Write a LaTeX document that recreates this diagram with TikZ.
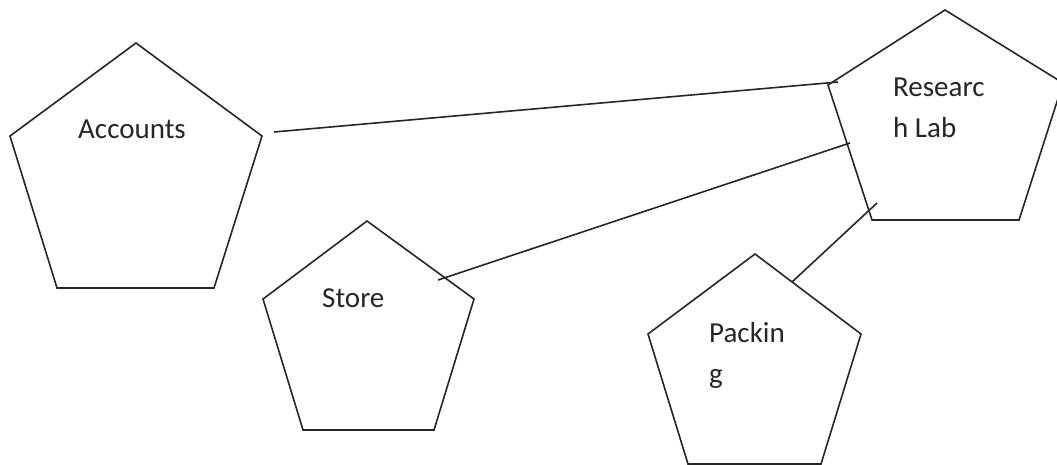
\documentclass[tikz,border=0pt]{standalone}
\usepackage{fontspec}
\setmainfont{Carlito}
\begin{document}
\begin{tikzpicture}[x=1pt,y=-1pt,
  pent/.style={draw=black!85,line width=1.6pt,line join=miter},
  link/.style={draw=black!85,line width=1.6pt},
  lbl/.style={anchor=base west,inner sep=0pt,align=left,text=black!85,
    font=\fontsize{29}{41}\selectfont}]
\useasboundingbox (0,0) rectangle (1057,465);
\begin{scope}
\clip (0,0) rectangle (1057,465);
% pentagons
\draw[pent] (136,43) -- (262,136) -- (214,288) -- (57,288) -- (10,136) -- cycle;
\draw[pent] (945,10) -- (1063,83) -- (1019,220) -- (872,220) -- (828,85) -- cycle;
\draw[pent] (367,221) -- (474,299) -- (434,430) -- (303,430) -- (263,299) -- cycle;
\draw[pent] (755,254) -- (861,334) -- (821,464) -- (688,464) -- (648,334) -- cycle;
\end{scope}
% labels (base anchor = baseline of last line)
\node[lbl] (acc) at (78,138.5) {Accounts};
\node[lbl] (res) at (893,138) {Researc\\h Lab};
\node[lbl] (sto) at (322,307) {Store};
\node[lbl] (pac) at (709,383) {Packin\\g};
% connector ends
\coordinate (accE) at (274,132);
\coordinate (resA) at (838,82);
\coordinate (stoE) at (438,280);
\coordinate (resS) at (850,143);
\coordinate (pacE) at (792,282);
\coordinate (resP) at (877,203);
\draw[link] (accE) -- (resA);
\draw[link] (stoE) -- (resS);
\draw[link] (pacE) -- (resP);
\end{tikzpicture}
\end{document}
